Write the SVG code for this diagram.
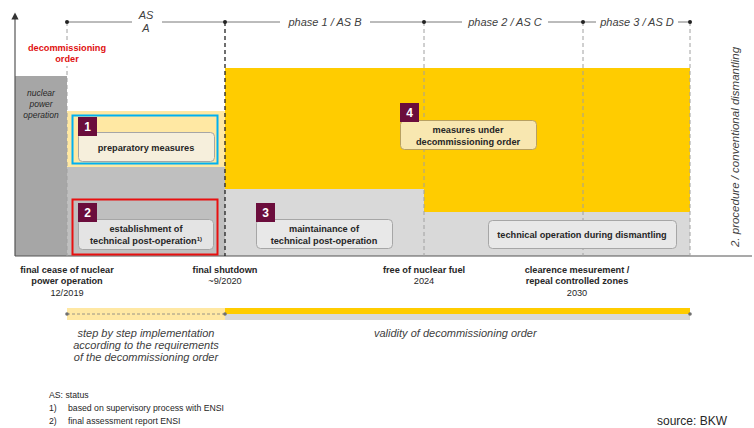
<svg xmlns="http://www.w3.org/2000/svg" width="754" height="428" viewBox="0 0 754 428">
<style>
text{font-family:"Liberation Sans",Arial,sans-serif;fill:#262626}
.it{font-style:italic;font-size:11px;fill:#404040}
.ph{font-style:italic;font-size:11px;fill:#404040}
.b{font-weight:bold;font-size:9.2px}
.n{font-size:9.2px}
.lbl{font-weight:bold;font-size:9.2px;fill:#262626}
.num{font-weight:bold;font-size:12px;fill:#fff}
.badge{fill:#6b0d3c}
.dash{stroke:#a0a0a0;stroke-width:1;stroke-dasharray:4,3;fill:none}
.dashk{stroke:#222;stroke-width:1.3;stroke-dasharray:4,3;fill:none}
.dot{fill:#222}
.fn{font-size:8.7px;fill:#262626}
</style>
<defs>
<marker id="ar" viewBox="0 0 10 10" refX="5" refY="5" markerWidth="6" markerHeight="6" orient="auto"><path d="M0,0 L10,5 L0,10 z" fill="#333"/></marker>
</defs>
<rect width="754" height="428" fill="#fff"/>

<g id="areas">
<rect x="15" y="76" width="52" height="180" fill="#a6a6a6"/>
<rect x="67" y="111" width="158" height="56" fill="#ffe8a3"/>
<rect x="67" y="167" width="158" height="89" fill="#bfbfbf"/>
<rect x="225" y="68" width="465" height="188" fill="#d9d9d9"/>
<rect x="225" y="68" width="199" height="121" fill="#ffcc00"/>
<rect x="424" y="68" width="266" height="144" fill="#ffcc00"/>
</g>

<g id="connectors">
<line x1="15" y1="256" x2="752" y2="256" stroke="#555" stroke-width="1.2"/>
<line x1="15" y1="256" x2="15" y2="16" stroke="#555" stroke-width="1.2" marker-end="url(#ar)"/>
<line x1="67" y1="22" x2="690" y2="22" stroke="#555" stroke-width="0.8"/>
<line x1="67" y1="22" x2="67" y2="256" class="dash"/>
<line x1="225" y1="22" x2="225" y2="256" class="dashk"/>
<line x1="424" y1="22" x2="424" y2="256" class="dash"/>
<line x1="583" y1="22" x2="583" y2="256" class="dash"/>
<line x1="690" y1="22" x2="690" y2="256" class="dash"/>
<circle cx="67" cy="22" r="2" class="dot"/>
<circle cx="225" cy="22" r="2" class="dot"/>
<circle cx="424" cy="22" r="2" class="dot"/>
<circle cx="583" cy="22" r="2" class="dot"/>
<circle cx="690" cy="22" r="2" class="dot"/>
</g>

<g id="phase-labels">
<rect x="132" y="10" width="30" height="26" fill="#fff"/>
<text x="146" y="19" class="ph" text-anchor="middle">AS</text>
<text x="146" y="32" class="ph" text-anchor="middle">A</text>
<rect x="280" y="15" width="90" height="14" fill="#fff"/>
<text x="325" y="26" class="ph" text-anchor="middle">phase 1 / AS B</text>
<rect x="462" y="15" width="86" height="14" fill="#fff"/>
<text x="505" y="26" class="ph" text-anchor="middle">phase 2 / AS C</text>
<rect x="596" y="15" width="82" height="14" fill="#fff"/>
<text x="637" y="26" class="ph" text-anchor="middle">phase 3 / AS D</text>
</g>

<g id="decommissioning-order">
<rect x="18" y="41" width="101" height="25" fill="#fff"/>
<text x="67" y="51" text-anchor="middle" style="font-weight:bold;font-size:9.2px;fill:#e01010">decommissioning</text>
<text x="67" y="62" text-anchor="middle" style="font-weight:bold;font-size:9.2px;fill:#e01010">order</text>
</g>

<g id="nuclear-power-operation">
<text x="41" y="96" text-anchor="middle" style="font-style:italic;font-size:8.5px;fill:#262626">nuclear</text>
<text x="41" y="107" text-anchor="middle" style="font-style:italic;font-size:8.5px;fill:#262626">power</text>
<text x="41" y="118" text-anchor="middle" style="font-style:italic;font-size:8.5px;fill:#262626">operation</text>
</g>

<g id="node1">
<rect x="72.5" y="115.5" width="145" height="48" fill="none" stroke="#00b0f0" stroke-width="2"/>
<rect x="78.5" y="132.5" width="136" height="29" rx="4" fill="#f6efdc" stroke="#a6a6a6"/>
<rect x="78" y="117" width="19" height="19" class="badge"/>
<text x="87.5" y="131" class="num" text-anchor="middle">1</text>
<text x="146" y="151" class="lbl" text-anchor="middle">preparatory measures</text>
</g>

<g id="node2">
<rect x="72.5" y="199.5" width="145" height="55" fill="none" stroke="#e81010" stroke-width="2"/>
<rect x="78.5" y="219.5" width="135" height="30" rx="4" fill="#e4e4e4" stroke="#a6a6a6"/>
<rect x="78" y="203" width="19" height="19" class="badge"/>
<text x="87.5" y="217" class="num" text-anchor="middle">2</text>
<text x="146" y="232" class="lbl" text-anchor="middle">establishment of</text>
<text x="146" y="244" class="lbl" text-anchor="middle">technical post-operation<tspan style="font-size:6px" dy="-3">1)</tspan></text>
</g>

<g id="node3">
<rect x="256.5" y="219.5" width="136" height="29" rx="4" fill="#e8e8e8" stroke="#a6a6a6"/>
<rect x="256" y="203" width="19" height="19" class="badge"/>
<text x="265.5" y="217" class="num" text-anchor="middle">3</text>
<text x="324" y="232" class="lbl" text-anchor="middle">maintainance of</text>
<text x="324" y="244" class="lbl" text-anchor="middle">technical post-operation</text>
</g>

<g id="node4">
<rect x="400.5" y="120.5" width="136" height="29" rx="4" fill="#f8e7b0" stroke="#b8a060"/>
<rect x="400" y="103" width="19" height="19" class="badge"/>
<text x="409.5" y="117" class="num" text-anchor="middle">4</text>
<text x="468" y="133" class="lbl" text-anchor="middle">measures under</text>
<text x="468" y="145" class="lbl" text-anchor="middle">decommissioning order</text>
</g>

<g id="node5">
<rect x="488.5" y="220.5" width="188" height="28" rx="4" fill="#e8e8e8" stroke="#a6a6a6"/>
<text x="582" y="238" class="lbl" text-anchor="middle">technical operation during dismantling</text>
</g>

<g id="vertical-label">
<text transform="translate(739,147) rotate(-90)" text-anchor="middle" class="it" style="font-size:11.5px">2. procedure / conventional dismantling</text>
</g>

<g id="milestones">
<text x="67" y="273" class="b" text-anchor="middle">final cease of nuclear</text>
<text x="67" y="284" class="b" text-anchor="middle">power operation</text>
<text x="67" y="296" class="n" text-anchor="middle">12/2019</text>
<text x="225" y="273" class="b" text-anchor="middle">final shutdown</text>
<text x="225" y="284" class="n" text-anchor="middle">~9/2020</text>
<text x="424" y="273" class="b" text-anchor="middle">free of nuclear fuel</text>
<text x="424" y="284" class="n" text-anchor="middle">2024</text>
<text x="577" y="273" class="b" text-anchor="middle">clearence mesurement /</text>
<text x="577" y="284" class="b" text-anchor="middle">repeal controlled zones</text>
<text x="577" y="296" class="n" text-anchor="middle">2030</text>
</g>

<g id="validity-bar">
<rect x="67" y="308" width="158" height="12" fill="#ffe8a3"/>
<line x1="67" y1="314" x2="225" y2="314" stroke="#808080" stroke-width="0.8" stroke-dasharray="3,2"/>
<rect x="225" y="308" width="465" height="6" fill="#ffcc00"/>
<rect x="225" y="314" width="465" height="6" fill="#d9d9d9"/>
<circle cx="67" cy="314" r="1.8" fill="#707070"/>
<circle cx="225" cy="314" r="1.8" fill="#707070"/>
<circle cx="690" cy="314" r="1.8" fill="#707070"/>
<text x="146" y="337" class="it" text-anchor="middle">step by step implementation</text>
<text x="146" y="349" class="it" text-anchor="middle">according to the requirements</text>
<text x="146" y="361" class="it" text-anchor="middle">of the decommissioning order</text>
<text x="374" y="337" class="it">validity of decommissioning order</text>
</g>

<g id="footnotes">
<text x="49" y="398" class="fn">AS: status</text>
<text x="49" y="411" class="fn">1)</text>
<text x="68" y="411" class="fn">based on supervisory process with ENSI</text>
<text x="49" y="424" class="fn">2)</text>
<text x="68" y="424" class="fn">final assessment report ENSI</text>
<text x="657" y="425" style="font-size:12px;fill:#262626">source: BKW</text>
</g>
</svg>
